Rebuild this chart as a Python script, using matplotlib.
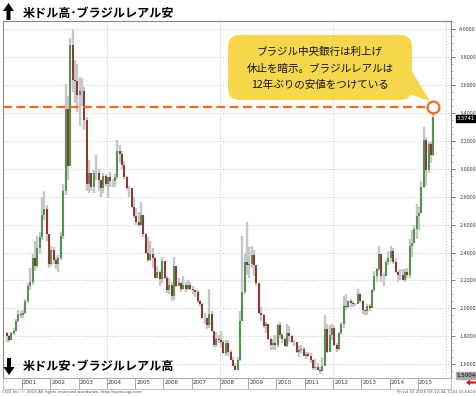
import numpy as np
import matplotlib
matplotlib.use("Agg")
import matplotlib.pyplot as plt
from matplotlib.patches import FancyBboxPatch, Polygon, Rectangle
import matplotlib.transforms as mtransforms

plt.rcParams['font.family'] = ['Noto Sans CJK JP', 'DejaVu Sans']

# monthly USD/BRL candles, Jun 2000 .. Jul 2015
first_open = 1.82
closes = [
    1.80, 1.77, 1.82, 1.84, 1.91, 1.96, 1.955,                              # 2000 (Jun-Dec)
    1.97, 2.05, 2.16, 2.19, 2.36, 2.30, 2.43, 2.51, 2.67, 2.71, 2.53, 2.32, # 2001
    2.42, 2.35, 2.32, 2.36, 2.52, 2.84, 3.43, 3.02, 3.89, 3.64, 3.63, 3.53, # 2002
    3.56, 3.56, 3.35, 2.89, 2.97, 2.87, 2.97, 2.97, 2.92, 2.86, 2.95, 2.89, # 2003
    2.94, 2.91, 2.91, 2.94, 3.13, 3.11, 3.03, 2.94, 2.86, 2.86, 2.73, 2.66, # 2004
    2.62, 2.60, 2.67, 2.53, 2.40, 2.35, 2.39, 2.36, 2.22, 2.26, 2.21, 2.34, # 2005
    2.22, 2.13, 2.17, 2.09, 2.30, 2.16, 2.18, 2.14, 2.17, 2.14, 2.17, 2.14, # 2006
    2.13, 2.12, 2.05, 2.03, 1.93, 1.93, 1.88, 1.96, 1.84, 1.74, 1.78, 1.77, # 2007
    1.76, 1.68, 1.75, 1.69, 1.63, 1.59, 1.56, 1.63, 1.91, 2.12, 2.33, 2.31, # 2008
    2.32, 2.38, 2.31, 2.18, 1.97, 1.95, 1.87, 1.89, 1.78, 1.74, 1.75, 1.74, # 2009
    1.88, 1.81, 1.78, 1.73, 1.82, 1.80, 1.76, 1.76, 1.69, 1.70, 1.71, 1.66, # 2010
    1.67, 1.66, 1.63, 1.57, 1.58, 1.56, 1.55, 1.59, 1.85, 1.69, 1.81, 1.86, # 2011
    1.74, 1.71, 1.82, 1.89, 2.02, 2.01, 2.05, 2.04, 2.03, 2.03, 2.10, 2.05, # 2012
    1.99, 1.98, 2.02, 2.00, 2.13, 2.23, 2.28, 2.39, 2.23, 2.23, 2.33, 2.36, # 2013
    2.41, 2.33, 2.26, 2.24, 2.24, 2.20, 2.26, 2.24, 2.45, 2.47, 2.57, 2.66, # 2014
    2.68, 2.87, 3.21, 2.99, 3.18, 3.10, 3.3741,                             # 2015 (Jan-Jul)
]
highs = [
    1.83, 1.81, 1.83, 1.86, 1.92, 1.99, 1.98,
    1.99, 2.07, 2.18, 2.29, 2.39, 2.48, 2.52, 2.55, 2.80, 2.84, 2.74, 2.53,
    2.45, 2.44, 2.37, 2.38, 2.55, 2.89, 3.61, 3.52, 3.94, 4.00, 3.78, 3.75,
    3.66, 3.65, 3.59, 3.37, 3.06, 2.97, 2.99, 3.10, 3.00, 2.92, 2.97, 2.96,
    2.94, 2.98, 2.93, 2.96, 3.21, 3.17, 3.13, 3.05, 2.95, 2.88, 2.86, 2.80,
    2.72, 2.69, 2.76, 2.67, 2.54, 2.51, 2.48, 2.43, 2.37, 2.30, 2.27, 2.37,
    2.34, 2.23, 2.22, 2.19, 2.37, 2.30, 2.22, 2.19, 2.23, 2.19, 2.20, 2.19,
    2.16, 2.13, 2.13, 2.06, 2.04, 1.97, 1.92, 2.14, 1.98, 1.84, 1.83, 1.81,
    1.84, 1.77, 1.77, 1.77, 1.70, 1.65, 1.61, 1.65, 1.98, 2.52, 2.39, 2.62,
    2.44, 2.45, 2.42, 2.30, 2.18, 2.01, 1.96, 1.90, 1.89, 1.79, 1.78, 1.81,
    1.89, 1.90, 1.82, 1.79, 1.89, 1.87, 1.81, 1.77, 1.76, 1.73, 1.74, 1.72,
    1.69, 1.69, 1.68, 1.63, 1.64, 1.61, 1.58, 1.65, 1.95, 1.89, 1.88, 1.89,
    1.87, 1.75, 1.83, 1.90, 2.09, 2.10, 2.06, 2.07, 2.05, 2.04, 2.14, 2.11,
    2.06, 1.99, 2.03, 2.03, 2.14, 2.27, 2.29, 2.45, 2.39, 2.25, 2.35, 2.41,
    2.45, 2.43, 2.36, 2.27, 2.28, 2.28, 2.28, 2.29, 2.50, 2.56, 2.60, 2.75,
    2.73, 2.91, 3.30, 3.23, 3.19, 3.19, 3.41,
]
lows = [
    1.76, 1.76, 1.77, 1.81, 1.84, 1.90, 1.93,
    1.93, 1.96, 2.04, 2.13, 2.17, 2.27, 2.29, 2.39, 2.49, 2.63, 2.48, 2.29,
    2.30, 2.32, 2.28, 2.26, 2.35, 2.50, 2.81, 2.92, 3.02, 3.55, 3.47, 3.41,
    3.31, 3.45, 3.28, 2.84, 2.83, 2.84, 2.83, 2.92, 2.84, 2.80, 2.83, 2.88,
    2.79, 2.87, 2.87, 2.87, 2.93, 3.04, 3.00, 2.93, 2.85, 2.80, 2.72, 2.65,
    2.60, 2.58, 2.59, 2.51, 2.39, 2.33, 2.34, 2.29, 2.22, 2.22, 2.16, 2.18,
    2.21, 2.11, 2.10, 2.05, 2.06, 2.15, 2.16, 2.12, 2.13, 2.12, 2.13, 2.13,
    2.10, 2.08, 2.04, 2.02, 1.92, 1.89, 1.85, 1.86, 1.84, 1.72, 1.72, 1.75,
    1.72, 1.67, 1.66, 1.66, 1.63, 1.59, 1.56, 1.56, 1.62, 1.91, 2.10, 2.24,
    2.22, 2.29, 2.23, 2.16, 1.96, 1.91, 1.86, 1.82, 1.77, 1.70, 1.70, 1.70,
    1.72, 1.79, 1.75, 1.72, 1.72, 1.76, 1.75, 1.73, 1.68, 1.65, 1.68, 1.66,
    1.64, 1.65, 1.61, 1.56, 1.56, 1.56, 1.53, 1.54, 1.59, 1.68, 1.69, 1.77,
    1.73, 1.69, 1.70, 1.81, 1.86, 1.99, 2.00, 2.01, 2.01, 2.02, 2.03, 2.04,
    1.96, 1.95, 1.95, 1.98, 2.00, 2.12, 2.19, 2.27, 2.19, 2.16, 2.23, 2.31,
    2.33, 2.32, 2.25, 2.19, 2.20, 2.20, 2.19, 2.22, 2.22, 2.37, 2.47, 2.50,
    2.56, 2.68, 2.86, 2.88, 2.97, 3.04, 3.09,
]
start_year, start_month = 2000, 6

years = list(range(2001, 2016))
y_ticks = [1.6, 1.8, 2.0, 2.2, 2.4, 2.6, 2.8, 3.0, 3.2, 3.4, 3.6, 3.8, 4.0]
marked_level = 3.443
y_bottom = 1.5004

title_up = "米ドル高･ブラジルレアル安"
title_down = "米ドル安･ブラジルレアル高"
note_lines = ["ブラジル中央銀行は利上げ", "休止を暗示。ブラジルレアルは", "12年ぶりの安値をつけている"]

W, H = 477, 396
fig = plt.figure(figsize=(W / 100, H / 100), dpi=100)

def px_box(x0, y0, x1, y1):
    return [x0 / W, 1 - y1 / H, (x1 - x0) / W, (y1 - y0) / H]

ax = fig.add_axes(px_box(3, 21, 451, 378))

closes = np.array(closes)
highs = np.array(highs)
lows = np.array(lows)
opens = np.concatenate([[first_open], closes[:-1]])
idx = np.arange(len(closes))
x = start_year + (start_month - 1 + idx + 0.5) / 12.0

up = closes >= opens
ax.vlines(x, lows, highs, color='#c6c6c6', lw=1.7, zorder=2)
ax.vlines(x[up], opens[up], closes[up], color='#3d8b3d', lw=1.2, zorder=3)
ax.vlines(x[~up], opens[~up], closes[~up], color='#861b1b', lw=1.2, zorder=3)

ax.set_xlim(2000.33, 2016.17)
ax.set_ylim(y_bottom, 4.06)

# grid
for v in y_ticks:
    ax.axhline(v, color='#cfcfcf', lw=0.8, ls=(0, (1, 1.5)), zorder=1)
for yr in [2004, 2008, 2012, 2016]:
    ax.axvline(yr, color='#cfcfcf', lw=0.8, ls=(0, (1, 1.5)), zorder=1)

# orange mark
ax.hlines(marked_level, 2000.33, x[-1] - 0.2, color='#f26a1b', lw=1.6,
          ls=(0, (4, 2)), zorder=4)
ax.plot([x[-1]], [marked_level], 'o', ms=8.5, mfc='white', mec='#f26a1b',
        mew=1.6, zorder=6, clip_on=False)

# right axis
ax.yaxis.tick_right()
ax.set_yticks(y_ticks)
ax.set_yticklabels([f"{v:.4f}" for v in y_ticks])
ax.set_yticks(np.arange(1.55, 4.06, 0.05), minor=True)
ax.tick_params(axis='y', which='major', labelsize=4, colors='#444444',
               length=3, width=0.5, pad=3)
ax.tick_params(axis='y', which='minor', length=1.5, width=0.4, colors='#888888')

# x axis: year separators and labels
ax.set_xticks(years)
ax.set_xticklabels([])
ax.tick_params(axis='x', length=8, width=0.6, colors='#999999', direction='out')
trans = mtransforms.blended_transform_factory(ax.transData, ax.transAxes)
for yr in years:
    ax.text(yr + 0.04, -0.006, str(yr), transform=trans, ha='left', va='top',
            fontsize=4, color='#333333', family='DejaVu Sans')

for s in ax.spines.values():
    s.set_color('#888888')
    s.set_linewidth(0.8)

# price boxes on the right axis
ytrans = mtransforms.blended_transform_factory(ax.transAxes, ax.transData)
ax.text(1.012, closes[-1] - 0.012, f"{closes[-1]:.4f}", transform=ytrans, ha='left',
        va='center', fontsize=3.8, color='white', family='DejaVu Sans',
        bbox=dict(facecolor='black', edgecolor='black', pad=0.5), zorder=10)
ax.text(1.012, y_bottom + 0.02, f"{y_bottom:.4f}", transform=ytrans, ha='left',
        va='center', fontsize=4, color='black', family='DejaVu Sans',
        bbox=dict(facecolor='#a8a8a8', edgecolor='#a8a8a8', pad=0.6), zorder=10)

# overlay in pixel coordinates
ov = fig.add_axes([0, 0, 1, 1], zorder=5)
ov.set_xlim(0, W)
ov.set_ylim(H, 0)
ov.axis('off')
ov.patch.set_alpha(0)

yellow = '#f6d64b'
ov.add_patch(Polygon([[398, 90], [411, 70], [430, 101]], closed=True,
                     facecolor=yellow, edgecolor='none'))
ov.add_patch(FancyBboxPatch((228, 35), 184, 65,
                            boxstyle="round,pad=0,rounding_size=12",
                            facecolor=yellow, edgecolor='none'))
for i, line in enumerate(note_lines):
    ov.text(320, 52 + i * 16.5, line, ha='center', va='center', fontsize=7.6,
            color='#111111')

ov.text(23, 13, title_up, ha='left', va='center', fontsize=8.7,
        fontweight='bold', color='black')
ov.text(23, 366, title_down, ha='left', va='center', fontsize=8.7,
        fontweight='bold', color='black')
ov.arrow(8.5, 20, 0, -17, width=4, head_width=11, head_length=8,
         length_includes_head=True, color='black', lw=0)
ov.arrow(9, 358, 0, 17, width=4, head_width=11, head_length=8,
         length_includes_head=True, color='black', lw=0)

# bottom strip and footer
ov.add_patch(Rectangle((3, 378), 448, 11, facecolor='none', edgecolor='#bbbbbb', lw=0.6))
ov.text(2, 391.5, "CQG Inc. © 2015 All rights reserved worldwide. http://www.cqg.com",
        ha='left', va='center', fontsize=3, color='#555555', family='DejaVu Sans')
ov.text(475, 391.5, "Fri Jul 31 2015 03:12:44, CQG 15.6624",
        ha='right', va='center', fontsize=3, color='#555555', family='DejaVu Sans')
ov.arrow(476, 382.5, -10, 0, width=2.2, head_width=6, head_length=4,
         length_includes_head=True, color='#e01010', lw=0)

fig.savefig("out.png", dpi=100)
